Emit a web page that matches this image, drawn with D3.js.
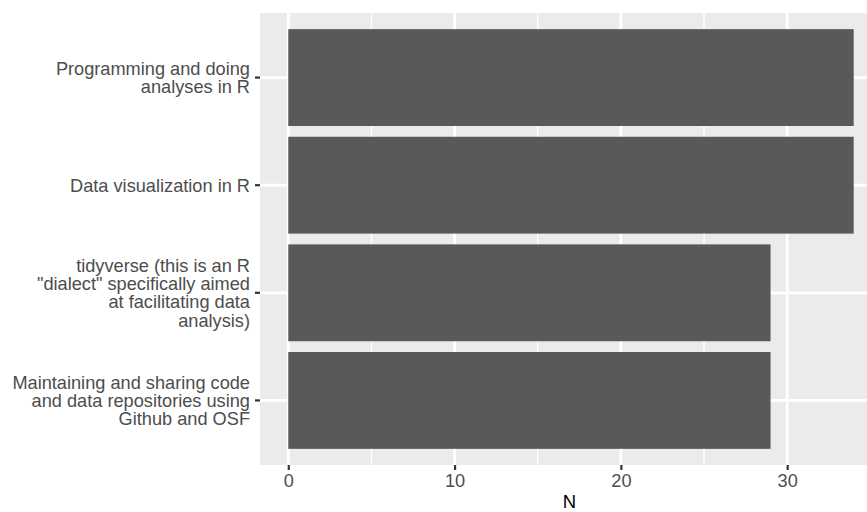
<!DOCTYPE html>
<html>
<head>
<meta charset="utf-8">
<script src="https://cdn.jsdelivr.net/npm/d3@7"></script>
<style>
  html, body { margin: 0; padding: 0; background: #ffffff; }
  svg { display: block; }
</style>
</head>
<body>
<svg id="chart" width="867" height="512"></svg>
<script>
// ---- data ----
const categories = [
  "Programming and doing analyses in R",
  "Data visualization in R",
  "tidyverse (this is an R \"dialect\" specifically aimed at facilitating data analysis)",
  "Maintaining and sharing code and data repositories using Github and OSF"
];
const categoryLines = [
  ["Programming and doing", "analyses in R"],
  ["Data visualization in R"],
  ["tidyverse (this is an R", "\"dialect\" specifically aimed", "at facilitating data", "analysis)"],
  ["Maintaining and sharing code", "and data repositories using", "Github and OSF"]
];
const counts = [34, 34, 29, 29];
const xTicks = [0, 10, 20, 30];
const xMinorTicks = [5, 15, 25, 35];
const xTitle = "N";

// ---- layout ----
const svg = d3.select("#chart");
const panel = { left: 260, top: 13, bottom: 465 };
const maxV = d3.max(counts);
const expand = maxV * 0.05;
const unitPx = 16.63;
const x = d3.scaleLinear()
  .domain([-expand, maxV + expand])
  .range([panel.left, panel.left + (maxV + 2 * expand) * unitPx]);
const y = d3.scaleBand()
  .domain(categories)
  .range([panel.top, panel.bottom])
  .paddingInner(0.1)
  .paddingOuter(0.15);

const fontFamily = "'Liberation Sans', Arial, Helvetica, sans-serif";
const fontSize = 18.2;

// panel background
svg.append("rect")
  .attr("x", panel.left).attr("y", panel.top)
  .attr("width", x.range()[1] - panel.left)
  .attr("height", panel.bottom - panel.top)
  .attr("fill", "#EBEBEB");

// minor gridlines
svg.append("g").selectAll("line").data(xMinorTicks).join("line")
  .attr("x1", d => x(d)).attr("x2", d => x(d))
  .attr("y1", panel.top).attr("y2", panel.bottom)
  .attr("stroke", "#ffffff").attr("stroke-width", 1.4);

// major gridlines
svg.append("g").selectAll("line").data(xTicks).join("line")
  .attr("x1", d => x(d)).attr("x2", d => x(d))
  .attr("y1", panel.top).attr("y2", panel.bottom)
  .attr("stroke", "#ffffff").attr("stroke-width", 2.8);
svg.append("g").selectAll("line").data(categories).join("line")
  .attr("x1", panel.left).attr("x2", x.range()[1])
  .attr("y1", d => y(d) + y.bandwidth() / 2).attr("y2", d => y(d) + y.bandwidth() / 2)
  .attr("stroke", "#ffffff").attr("stroke-width", 2.8);

// bars
svg.append("g").selectAll("rect").data(categories).join("rect")
  .attr("x", x(0))
  .attr("y", d => y(d))
  .attr("width", (d, i) => x(counts[i]) - x(0))
  .attr("height", y.bandwidth())
  .attr("fill", "#595959");

// x axis
const xAxis = d3.axisBottom(x).tickValues(xTicks).tickSize(5).tickPadding(4).tickFormat(d3.format("d"));
const gx = svg.append("g").attr("transform", `translate(0,${panel.bottom})`).call(xAxis);
gx.select(".domain").remove();
gx.selectAll(".tick line").attr("stroke", "#333333").attr("stroke-width", 2.2);
gx.selectAll(".tick text")
  .attr("fill", "#4D4D4D")
  .style("font-family", fontFamily)
  .style("font-size", fontSize + "px");

// y axis
const yAxis = d3.axisLeft(y).tickSize(5).tickPadding(5).tickFormat("");
const gy = svg.append("g").attr("transform", `translate(${panel.left},0)`).call(yAxis);
gy.select(".domain").remove();
gy.selectAll(".tick line").attr("stroke", "#333333").attr("stroke-width", 2.2);
const lineH = 18.3;
gy.selectAll(".tick text").each(function(d, i) {
  const lines = categoryLines[i];
  const t = d3.select(this)
    .text(null)
    .attr("x", -10)
    .attr("dy", null)
    .attr("text-anchor", "end")
    .attr("fill", "#4D4D4D")
    .style("font-family", fontFamily)
    .style("font-size", fontSize + "px");
  const n = lines.length;
  lines.forEach((ln, k) => {
    t.append("tspan")
      .attr("x", -10)
      .attr("y", (k - (n - 1) / 2) * lineH)
      .attr("dy", "0.35em")
      .text(ln);
  });
});

// x title
svg.append("text")
  .attr("x", (panel.left + x.range()[1]) / 2 - 1.5)
  .attr("y", 508)
  .attr("text-anchor", "middle")
  .attr("fill", "#000000")
  .style("font-family", fontFamily)
  .style("font-size", "18.5px")
  .text(xTitle);
</script>
</body>
</html>
